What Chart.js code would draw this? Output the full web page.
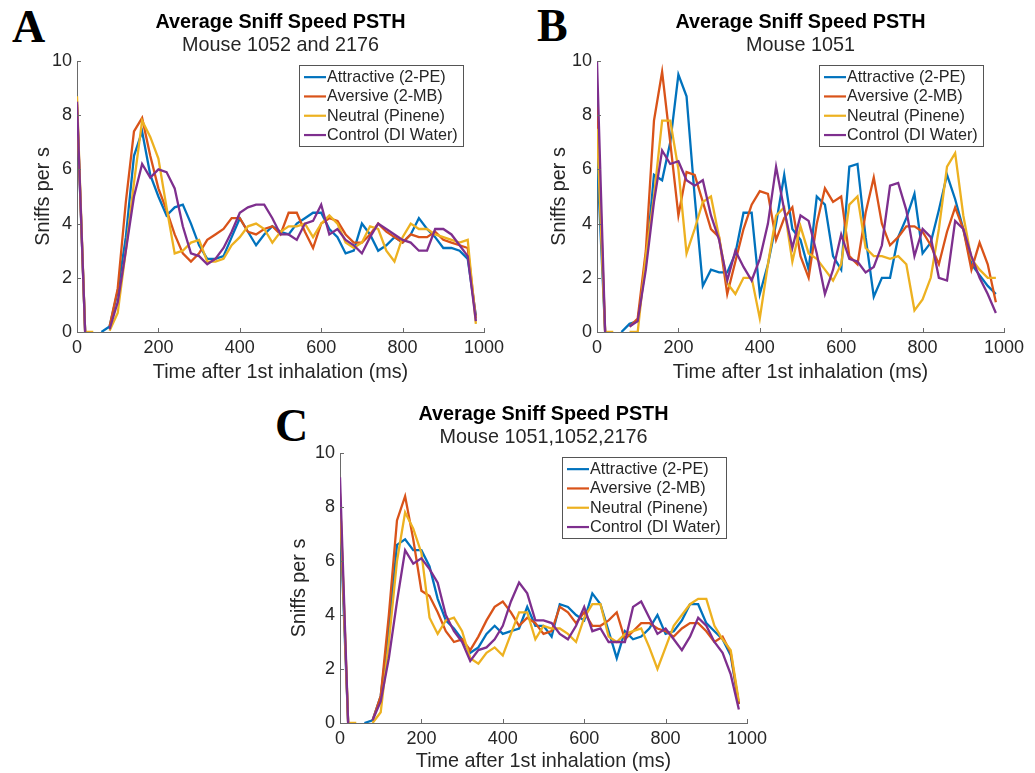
<!DOCTYPE html>
<html>
<head>
<meta charset="utf-8">
<script src="https://cdn.jsdelivr.net/npm/chart.js@4.4.1/dist/chart.umd.min.js"></script>
<style>
html,body{margin:0;padding:0;background:#fff;}
body{width:1035px;height:773px;position:relative;overflow:hidden;}
canvas{position:absolute;}
.letter{position:absolute;font-family:"Liberation Serif","DejaVu Serif",serif;font-weight:bold;font-size:46px;line-height:46px;color:#000;}
</style>
</head>
<body>
<div class="letter" style="left:12px;top:4px">A</div>
<div class="letter" style="left:537px;top:3px">B</div>
<div class="letter" style="left:275px;top:403px">C</div>
<canvas id="cA" width="517" height="384" style="left:0px;top:0px;width:517px;height:384px"></canvas>
<canvas id="cB" width="515" height="384" style="left:520px;top:0px;width:515px;height:384px"></canvas>
<canvas id="cC" width="517" height="381" style="left:263px;top:392px;width:517px;height:381px"></canvas>
<script>
// ---------- data ----------
const times = [0,20,40,60,80,100,120,140,160,180,200,220,240,260,280,300,320,340,360,380,400,420,440,460,480,500,520,540,560,580,600,620,640,660,680,700,720,740,760,780,800,820,840,860,880,900,920,940,960,980];
const xTickValues = [0,200,400,600,800,1000];
const yTickValues = [0,2,4,6,8,10];
const seriesNames = ['Attractive (2-PE)','Aversive (2-MB)','Neutral (Pinene)','Control (DI Water)'];
const seriesColors = ['#0072BD','#D95319','#EDB120','#7E2F8E'];
const mainTitle = 'Average Sniff Speed PSTH';
const subtitleA = 'Mouse 1052 and 2176';
const subtitleB = 'Mouse 1051';
const subtitleC = 'Mouse 1051,1052,2176';
const xAxisLabel = 'Time after 1st inhalation (ms)';
const yAxisLabel = 'Sniffs per s';

// Panel A (Mouse 1052 and 2176)  -- null = no value drawn
const attractiveA = [8.3,0,null,0,0.2,1.5,3.5,6.5,7.4,5.8, 5.0,4.3,4.6,4.7,4.0,3.2,2.7,2.7,2.8,3.5, 4.2,3.7,3.2,3.6,3.9,3.7,3.6,4.0,4.2,4.4, 4.4,3.8,3.5,2.9,3.0,4.0,3.6,3.0,3.2,3.5, 3.3,3.6,4.2,3.8,3.5,3.1,3.1,3.0,2.7,0.6];
const aversiveA   = [8.4,0,null,null,0.2,1.6,4.8,7.4,7.9,6.5, 5.3,4.5,3.6,2.9,2.6,2.9,3.4,3.6,3.8,4.2, 4.2,3.7,3.6,3.8,3.9,3.6,4.4,4.4,3.7,3.1, 4.0,4.2,4.1,3.6,3.3,3.3,3.6,4.0,3.7,3.5, 3.3,3.6,3.5,3.5,3.7,3.4,3.3,3.2,3.1,0.5];
const neutralA    = [8.7,0,0,null,0.05,0.7,3.0,5.5,7.8,7.2, 6.4,4.6,2.9,3.0,3.3,3.4,2.6,2.6,2.7,3.2, 3.5,3.9,4.0,3.8,3.3,3.7,3.9,3.9,4.0,3.5, 4.0,4.3,4.0,3.3,3.1,3.3,3.9,3.8,3.0,2.6, 3.5,4.0,3.8,3.8,3.6,3.5,3.4,3.3,3.4,0.3];
const controlA    = [8.5,0,null,null,0.1,1.1,3.0,5.0,6.2,5.7, 6.0,5.9,5.3,3.9,2.9,2.8,2.5,2.7,3.1,3.7, 4.4,4.6,4.7,4.7,4.2,3.6,3.6,3.4,4.0,4.1, 4.7,3.6,3.8,3.4,3.2,2.9,3.5,4.0,3.8,3.6, 3.4,3.3,3.0,3.0,3.8,3.8,3.6,3.2,2.8,0.4];

// Panel B (Mouse 1051)
const attractiveB = [6.5,0,null,0,0.3,0.4,2.5,5.8,5.6,7.0, 9.5,8.7,5.0,1.7,2.3,2.2,2.2,2.9,4.4,4.4, 1.4,2.5,4.0,5.8,3.8,3.4,2.3,5.0,4.7,2.8, 2.3,6.1,6.2,3.5,1.3,2.0,2.0,3.5,4.2,5.1, 2.9,3.3,4.5,5.8,4.9,3.8,2.5,2.1,1.7,1.4];
const aversiveB   = [8.3,0,null,null,0.2,0.5,3.0,7.8,9.6,7.0, 4.3,5.9,5.8,4.8,3.8,3.5,1.4,2.6,3.8,4.7, 5.2,5.1,3.4,4.2,4.6,2.8,2.0,4.0,5.3,4.8, 5.0,2.8,2.5,4.4,5.7,4.0,3.2,3.5,3.9,3.9, 3.7,3.2,2.5,3.7,4.6,3.8,2.3,3.3,2.5,1.1];
const neutralB    = [7.5,0,0,null,0,0,2.8,5.0,7.8,7.8, 6.0,2.9,3.8,4.8,5.0,3.5,1.8,1.4,2.0,2.0, 0.5,2.5,4.3,4.6,2.6,3.9,2.9,2.7,2.3,1.9, 2.5,4.7,5.0,3.1,2.8,2.8,2.7,2.8,2.5,0.8, 1.2,2.0,3.8,6.1,6.6,4.3,2.7,2.3,2.0,2.0];
const controlB    = [10.0,0,null,null,0.2,0.4,2.3,4.8,6.7,6.2, 6.3,5.6,5.4,5.6,4.3,3.4,1.9,3.0,2.4,1.9, 2.7,4.0,6.1,4.5,3.1,4.3,4.1,2.9,1.4,2.3, 3.6,2.7,2.6,2.2,2.4,3.2,5.4,5.5,4.5,2.8, 3.8,3.5,2.0,1.9,4.1,3.8,2.8,2.0,1.4,0.7];

// Panel C (Mouse 1051,1052,2176)
const attractiveC = [7.7,0,null,0,0.1,1.0,3.5,6.6,6.8,6.4, 6.4,5.8,4.6,3.8,3.5,3.1,2.6,2.8,3.3,3.6, 3.3,3.4,3.5,4.3,3.6,3.6,3.2,4.4,4.3,4.0, 3.8,4.8,4.4,3.4,2.4,3.4,3.1,3.2,3.5,4.0, 3.3,3.4,3.8,4.4,4.4,3.7,3.4,3.1,2.5,0.7];
const aversiveC   = [8.4,0,null,null,0.1,1.0,4.0,7.5,8.4,6.8, 4.9,4.7,4.1,3.4,3.0,3.1,2.7,3.2,3.8,4.3, 4.5,4.1,3.6,3.9,3.7,3.3,3.4,4.3,4.1,3.7, 4.1,3.6,3.6,3.8,4.1,3.1,3.4,3.7,3.7,3.5, 3.4,3.2,3.5,3.7,3.7,3.4,3.0,3.2,2.6,0.7];
const neutralC    = [8.5,0,0,null,0,0.4,3.0,6.0,7.8,7.2, 6.3,3.9,3.3,3.8,3.9,3.4,2.4,2.2,2.6,2.8, 2.5,3.3,4.1,4.1,3.1,3.6,3.5,3.5,3.3,3.0, 3.9,4.4,4.4,3.2,3.0,3.3,3.4,3.5,2.8,2.0, 2.8,3.6,4.0,4.4,4.6,4.6,3.6,3.1,2.7,0.8];
const controlC    = [9.1,0,null,null,0.1,0.8,2.4,4.5,6.4,5.9, 6.1,5.7,5.2,4.0,3.4,3.0,2.3,2.7,2.8,3.1, 3.6,4.5,5.2,4.8,3.8,3.8,3.7,3.3,3.1,3.6, 4.3,3.4,3.5,3.0,3.0,3.0,4.3,4.5,3.9,3.3, 3.5,3.1,2.7,3.2,3.9,3.6,3.0,2.6,1.8,0.5];

// ---------- styling ----------
const FONT = '"Liberation Sans", Arial, Helvetica, sans-serif';
const TEXT = '#262626';
const AXIS = '#6a6a6a';

const decorPlugin = {
  id: 'decor',
  afterDraw(chart) {
    const o = chart.options.plugins.decor;
    const ctx = chart.ctx, ca = chart.chartArea;
    const xs = chart.scales.x, ys = chart.scales.y;
    ctx.save();
    // inward tick marks (MATLAB style)
    ctx.strokeStyle = AXIS; ctx.lineWidth = 1;
    xs.ticks.forEach(t => {
      const px = Math.round(xs.getPixelForValue(t.value)) + 0.5;
      ctx.beginPath(); ctx.moveTo(px, ca.bottom); ctx.lineTo(px, ca.bottom - 4); ctx.stroke();
    });
    ys.ticks.forEach(t => {
      const py = Math.round(ys.getPixelForValue(t.value)) + 0.5;
      ctx.beginPath(); ctx.moveTo(ca.left, py); ctx.lineTo(ca.left + 4, py); ctx.stroke();
    });
    // title + subtitle centred over the plot area
    const cx = (ca.left + ca.right) / 2;
    ctx.fillStyle = '#000'; ctx.textAlign = 'center'; ctx.textBaseline = 'middle';
    ctx.font = 'bold 19.8px ' + FONT;
    ctx.fillText(o.title, cx, ca.top - 38);
    ctx.fillStyle = TEXT;
    ctx.font = '19.8px ' + FONT;
    ctx.fillText(o.subtitle, cx, ca.top - 15);
    // legend box (inside, top-right)
    ctx.font = '16.2px ' + FONT;
    const ds = chart.data.datasets;
    const textW = Math.max(...ds.map(d => ctx.measureText(d.label).width));
    const rowH = 19.3;
    const boxW = Math.round(textW + 33), boxH = Math.round(rowH * ds.length + 4);
    const bx = Math.round(ca.right - o.legendRight - boxW), by = Math.round(ca.top + o.legendTop);
    ctx.fillStyle = '#fff'; ctx.fillRect(bx, by, boxW, boxH);
    ctx.strokeStyle = '#555'; ctx.lineWidth = 1;
    ctx.strokeRect(bx + 0.5, by + 0.5, boxW, boxH);
    ds.forEach((d, i) => {
      const y = by + 2.5 + rowH * (i + 0.5);
      ctx.strokeStyle = d.borderColor; ctx.lineWidth = 2.2;
      ctx.beginPath(); ctx.moveTo(bx + 5, y); ctx.lineTo(bx + 27, y); ctx.stroke();
      ctx.fillStyle = TEXT; ctx.textAlign = 'left'; ctx.textBaseline = 'middle';
      ctx.fillText(d.label, bx + 28, y + 0.5);
    });
    ctx.restore();
  }
};

function makePanel(id, subtitle, seriesList, opt) {
  const datasets = seriesList.map((vals, i) => ({
    label: seriesNames[i],
    data: times.map((t, k) => ({x: t, y: vals[k]})),
    borderColor: seriesColors[i],
    backgroundColor: seriesColors[i],
    borderWidth: 2.3,
    pointRadius: 0,
    tension: 0,
    fill: false,
    spanGaps: false,
    order: seriesList.length - 1 - i
  }));
  return new Chart(document.getElementById(id), {
    type: 'line',
    data: { datasets },
    plugins: [decorPlugin],
    options: {
      responsive: false,
      animation: false,
      devicePixelRatio: 1,
      layout: { padding: { left: 0, top: 61, right: opt.padRight, bottom: 0 } },
      plugins: {
        legend: { display: false },
        title: { display: false },
        tooltip: { enabled: false },
        decor: { title: mainTitle, subtitle: subtitle, legendRight: 21, legendTop: 4 }
      },
      scales: {
        x: {
          type: 'linear', min: 0, max: 1000,
          afterBuildTicks: s => { s.ticks = xTickValues.map(v => ({value: v})); },
          afterFit: s => { s.height = opt.xAxisH; },
          grid: { display: false, drawTicks: false },
          border: { display: true, color: AXIS, width: 1 },
          ticks: { color: TEXT, font: { family: FONT, size: 18 }, padding: 5, maxRotation: 0, autoSkip: false,
                   callback: v => String(v) },
          title: { display: true, text: xAxisLabel, color: TEXT, font: { family: FONT, size: 19.8 }, padding: { top: 0, bottom: 0 } }
        },
        y: {
          type: 'linear', min: 0, max: 10,
          afterBuildTicks: s => { s.ticks = yTickValues.map(v => ({value: v})); },
          afterFit: s => { s.width = 77; },
          grid: { display: false, drawTicks: false },
          border: { display: true, color: AXIS, width: 1 },
          ticks: { color: TEXT, font: { family: FONT, size: 18 }, padding: 5, callback: v => String(v) },
          title: { display: true, text: yAxisLabel, color: TEXT, font: { family: FONT, size: 19.8 }, padding: { top: opt.yTitlePad, bottom: 0 } }
        }
      }
    }
  });
}

makePanel('cA', subtitleA, [attractiveA, aversiveA, neutralA, controlA], { padRight: 33, xAxisH: 52, yTitlePad: 32 });
makePanel('cB', subtitleB, [attractiveB, aversiveB, neutralB, controlB], { padRight: 31, xAxisH: 52, yTitlePad: 28 });
makePanel('cC', subtitleC, [attractiveC, aversiveC, neutralC, controlC], { padRight: 33, xAxisH: 50, yTitlePad: 25 });
</script>
</body>
</html>
